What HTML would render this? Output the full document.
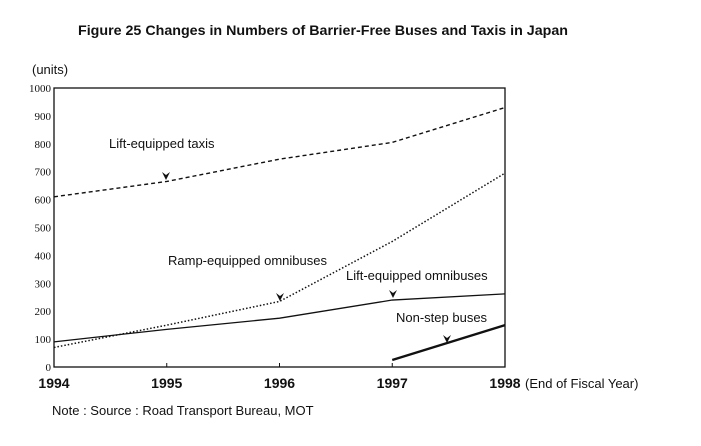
<!DOCTYPE html>
<html><head><meta charset="utf-8"><style>
html,body{margin:0;padding:0;background:#fff;}
svg{display:block;}
text{font-family:"Liberation Sans",sans-serif;fill:#111;}
.ytick{font-family:"Liberation Serif",serif;font-size:11px;}
</style></head><body>
<svg id="chart" width="701" height="446" viewBox="0 0 701 446">
<text x="78" y="35" font-size="14" font-weight="bold" textLength="490" lengthAdjust="spacingAndGlyphs">Figure 25 Changes in Numbers of Barrier-Free Buses and Taxis in Japan</text>
<text x="32" y="74" font-size="13">(units)</text>
<rect x="54" y="88" width="451" height="279" fill="none" stroke="#111" stroke-width="1.3"/>
<g id="yticks"></g><g id="xticks"></g><g id="series"></g>
<text x="52" y="415" font-size="13">Note : Source : Road Transport Bureau, MOT</text>
</svg>
<script>
const years = [1994, 1995, 1996, 1997, 1998];
const yTickValues = [0,100,200,300,400,500,600,700,800,900,1000];
const taxis = [610, 665, 745, 805, 930];
const rampOmnibuses = [70, 150, 235, 450, 695];
const liftOmnibuses = [90, 135, 175, 240, 262];
const nonStepYears = [1997, 1998];
const nonStepBuses = [25, 150];

const X0=54, X1=505, Y0=367, Y1=88;
const x = y => X0 + (y - years[0]) / (years[years.length-1] - years[0]) * (X1 - X0);
const yv = v => Y0 - v / 1000 * (Y0 - Y1);
const NS = "http://www.w3.org/2000/svg";
function mk(tag, attrs, parent){const e=document.createElementNS(NS,tag);for(const k in attrs)e.setAttribute(k,attrs[k]);parent.appendChild(e);return e;}

const yt=document.getElementById('yticks');
yTickValues.forEach(v=>{
  const t=mk('text',{x:51,y:yv(v)+4,'text-anchor':'end',class:'ytick'},yt);
  
  
  t.textContent=v;
});
const xt=document.getElementById('xticks');
years.forEach((yr,i)=>{
  if(i>0&&i<years.length-1){
    const l=mk('line',{x1:x(yr),x2:x(yr),y1:Y0,y2:Y0-4,stroke:'#111'},xt);
    
    
  }
  const t=mk('text',{x:x(yr),y:388,'text-anchor':'middle','font-size':'14','font-weight':'bold'},xt);
  
  
  t.textContent=yr;
});
const xl=mk('text',{x:x(1998)+20,y:388,'font-size':'13'},xt);


xl.textContent='(End of Fiscal Year)';

const sg=document.getElementById('series');
function line(xs, vals, name, dash, w){
  const pts=vals.map((v,i)=>x(xs[i])+','+yv(v)).join(' ');
  const p=mk('polyline',{points:pts,fill:'none',stroke:'#111','stroke-width':w},sg);
  if(dash)p.setAttribute('stroke-dasharray',dash);
  
  
}
line(years,taxis,'line-lift-equipped-taxis','4,3',1.4);
line(years,rampOmnibuses,'line-ramp-equipped-omnibuses','1.5,2',1.5);
line(years,liftOmnibuses,'line-lift-equipped-omnibuses',null,1.3);
line(nonStepYears,nonStepBuses,'line-non-step-buses',null,2.4);

function arrow(cx,cy,name){
  const p=mk('path',{d:`M${cx-4},${cy-4} L${cx},${cy-1} L${cx+4},${cy-4} L${cx},${cy+4} Z`,fill:'#111'},sg);
  
  
}
function label(tx,ty,s,name){
  const t=mk('text',{x:tx,y:ty,'font-size':'13'},sg);
  
  
  t.textContent=s;
}
label(109,148,'Lift-equipped taxis','label-lift-equipped-taxis');
arrow(166,176,'pointer-taxis');
label(168,265,'Ramp-equipped omnibuses','label-ramp-equipped-omnibuses');
arrow(280,297,'pointer-ramp');
label(346,280,'Lift-equipped omnibuses','label-lift-equipped-omnibuses');
arrow(393,294,'pointer-lift-omnibuses');
label(396,322,'Non-step buses','label-non-step-buses');
arrow(447,339,'pointer-non-step');
</script>
</body></html>
